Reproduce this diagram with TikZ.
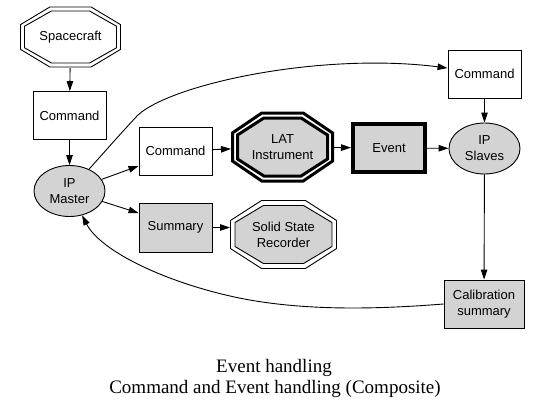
\documentclass[tikz,border=0pt]{standalone}
\usepackage{fontspec}
\setmainfont{Liberation Sans}
\newfontfamily\capfont{Liberation Serif}
\usetikzlibrary{arrows.meta,calc,shapes.geometric}
\definecolor{lg}{HTML}{D3D3D3}
% octagon: [options]{cx}{cy}{hw}{hh}
\newcommand\octo[5][]{%
  \draw[#1] (#2-#4,#3-0.414*#5) -- (#2-0.414*#4,#3-#5) -- (#2+0.414*#4,#3-#5) -- (#2+#4,#3-0.414*#5)
   -- (#2+#4,#3+0.414*#5) -- (#2+0.414*#4,#3+#5) -- (#2-0.414*#4,#3+#5) -- (#2-#4,#3+0.414*#5) -- cycle;}
\tikzset{
  every node/.style={font=\fontsize{13}{16}\selectfont, align=center, inner sep=0pt},
  box/.style={draw, line width=0.9pt, rectangle, minimum width=73pt, minimum height=48pt},
  gbox/.style={box, fill=lg},
  ell/.style={draw, line width=0.9pt, ellipse, fill=lg, minimum width=71pt, minimum height=51pt},
  holder/.style={rectangle, draw=none},
  arr/.style={line width=0.9pt, -{Triangle[length=10pt,width=6.5pt]}},
  thin/.style={line width=0.9pt},
  capt/.style={font=\capfont\fontsize{19}{21}\selectfont, anchor=base}
}
\begin{document}
\begin{tikzpicture}[x=1pt,y=-1pt]
\useasboundingbox (0,0) rectangle (543,407);
% octagons
\octo[thin]{70.5}{37}{50}{30}
\octo[thin]{70.5}{37}{46}{26}
\octo[line width=3pt]{282.5}{147}{50}{34}
\octo[line width=3pt,fill=lg]{282.5}{147}{45}{29}
\octo[thin]{283.5}{234.5}{53}{34}
\octo[thin,fill=lg]{283.5}{234.5}{48.5}{29}
% nodes
\node[holder, minimum width=101pt, minimum height=61pt, outer sep=0.5pt] (sc) at (70.5,37) {Spacecraft};
\node[box] (cmd1) at (69.5,115.5) {Command};
\node[ell] (ipm) at (69.5,191) {IP\\Master};
\node[box] (cmd2) at (175.5,151) {Command};
\node[holder, minimum width=103pt, minimum height=71pt, outer sep=0pt] (lat) at (282.5,147) {LAT\\Instrument};
\node[gbox, line width=4pt, minimum width=72pt, minimum height=48pt] (ev) at (389,148) {Event};
\node[ell] (ips) at (484.5,148.5) {IP\\Slaves};
\node[box] (cmd3) at (484.5,74) {Command};
\node[gbox, minimum height=49pt] (sum) at (175.5,227.5) {Summary};
\node[holder, minimum width=107pt, minimum height=69pt, outer sep=0pt] (ssr) at (283.5,234.5) {Solid State\\Recorder};
\node[gbox, minimum width=80pt] (cal) at (484,304) {Calibration\\summary};
% edges
\draw[arr] (sc) -- (cmd1);
\draw[arr] (cmd1) -- (ipm);
\draw[arr] (ipm) -- ([yshift=-15pt]cmd2.west);
\draw[arr] (ipm) -- ([yshift=14.5pt]sum.west);
\draw[arr] (cmd2) -- (lat);
\draw[arr] (lat) -- (ev);
\draw[arr] (ev) -- (ips);
\draw[arr] (cmd3) -- (ips);
\draw[arr] (ips) -- (cal);
\draw[arr] (sum.east) -- (sum.east -| ssr.west);
\draw[arr] (ipm) .. controls (108,148) and (122,132) .. (138,115)
  .. controls (172,84) and (320,52) .. ([yshift=6pt]cmd3.west);
\draw[arr] (cal.west) .. controls (380,309) and (300,312) .. (230,296)
  .. controls (160,280) and (100,250) .. (ipm);
% caption
\node[capt] (cap1) at (274,372) {Event handling};
\node[capt] (cap2) at (275,393) {Command and Event handling (Composite)};
\end{tikzpicture}
\end{document}
